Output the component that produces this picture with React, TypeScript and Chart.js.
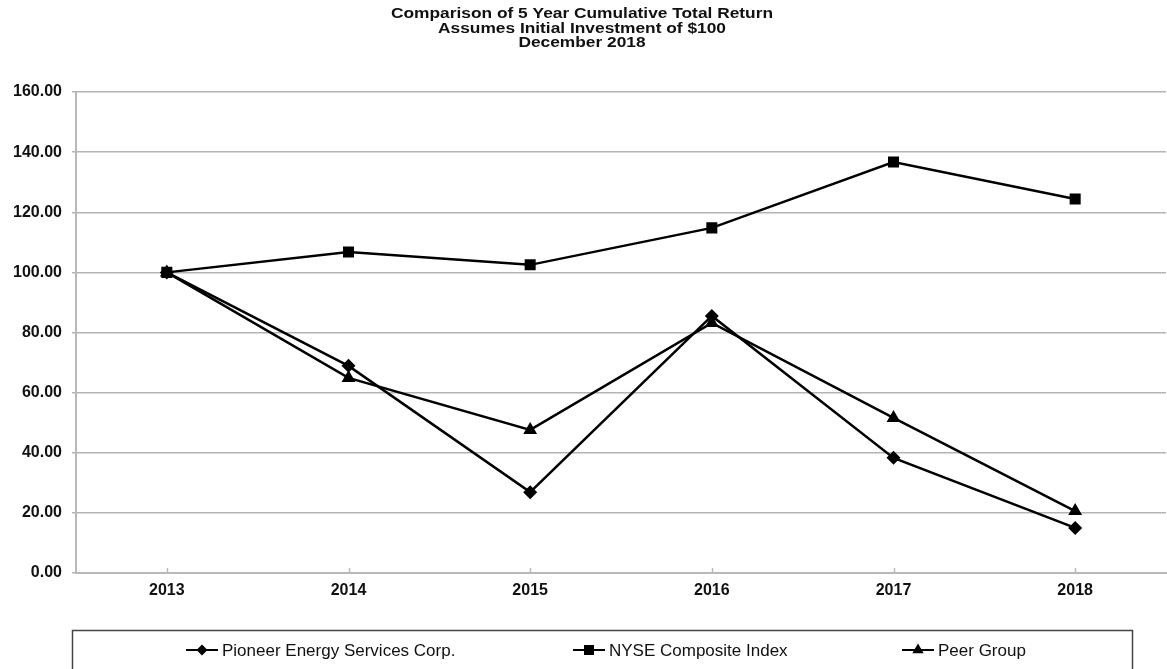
import React, { useEffect, useRef } from "react";
import { Chart, registerables } from "chart.js";

Chart.register(...registerables);

const years = ["2013", "2014", "2015", "2016", "2017", "2018"];
const pioneer = [100, 68.9, 26.9, 85.5, 38.3, 15.0];
const nyse = [100, 106.8, 102.5, 114.8, 136.7, 124.4];
const peer = [100, 64.9, 47.6, 83.2, 51.6, 20.6];
const seriesLabels = ["Pioneer Energy Services Corp.", "NYSE Composite Index", "Peer Group"];
const titleLines = [
  "Comparison of 5 Year Cumulative Total Return",
  "Assumes Initial Investment of $100",
  "December 2018",
];

const FONT = "'Liberation Sans', Arial, Helvetica, sans-serif";

function drawMarker(ctx: CanvasRenderingContext2D, style: string, x: number, y: number) {
  ctx.beginPath();
  if (style === "rectRot") {
    const r = 5.5;
    ctx.moveTo(x, y - r);
    ctx.lineTo(x + r, y);
    ctx.lineTo(x, y + r);
    ctx.lineTo(x - r, y);
  } else if (style === "rect") {
    const s = 5;
    ctx.rect(x - s, y - s, 2 * s, 2 * s);
  } else {
    const r = 6.5;
    ctx.moveTo(x, y - r);
    ctx.lineTo(x + r * 0.87, y + r * 0.5);
    ctx.lineTo(x - r * 0.87, y + r * 0.5);
  }
  ctx.closePath();
  ctx.fill();
}

const decorPlugin = {
  id: "decor",
  afterDraw(chart: any) {
    const ctx: CanvasRenderingContext2D = chart.ctx;
    ctx.save();
    // title
    ctx.fillStyle = "#111";
    ctx.font = `bold 15.5px ${FONT}`;
    ctx.textAlign = "center";
    ctx.textBaseline = "middle";
    const w0 = ctx.measureText(titleLines[0]).width;
    const sx = 382 / w0;
    const tys = [14, 28.5, 43];
    titleLines.forEach((t, i) => {
      ctx.save();
      ctx.translate(582, tys[i]);
      ctx.scale(sx, 1);
      ctx.fillText(t, 0, 0);
      ctx.restore();
    });

    // inner x tick marks
    const xs = chart.scales.x;
    const area = chart.chartArea;
    ctx.strokeStyle = "#b8b8b8";
    ctx.lineWidth = 1.5;
    years.forEach((_, i) => {
      const px = Math.round(xs.getPixelForValue(i)) + 0.5;
      ctx.beginPath();
      ctx.moveTo(px, area.bottom);
      ctx.lineTo(px, area.bottom - 5);
      ctx.stroke();
    });

    // legend box
    ctx.strokeStyle = "#444";
    ctx.lineWidth = 1.5;
    ctx.strokeRect(72.5, 630.5, 1060, 60);
    const items = [
      { x: 186, style: "rectRot" },
      { x: 573, style: "rect" },
      { x: 902, style: "triangle" },
    ];
    const ly = 650;
    ctx.font = `17px ${FONT}`;
    ctx.textAlign = "left";
    ctx.textBaseline = "middle";
    items.forEach((it, i) => {
      ctx.strokeStyle = "#000";
      ctx.lineWidth = 2;
      ctx.beginPath();
      ctx.moveTo(it.x, ly);
      ctx.lineTo(it.x + 32, ly);
      ctx.stroke();
      ctx.fillStyle = "#000";
      drawMarker(ctx, it.style, it.x + 16, ly);
      ctx.fillStyle = "#111";
      ctx.fillText(seriesLabels[i], it.x + 36, ly + 1);
    });
    ctx.restore();
  },
};

export default function App() {
  const ref = useRef<HTMLCanvasElement | null>(null);
  useEffect(() => {
    if (!ref.current) return;
    const mk = (label: string, data: number[], style: string, r: number) => ({
      label,
      data,
      borderColor: "#000",
      backgroundColor: "#000",
      borderWidth: 2.5,
      pointStyle: style,
      pointRadius: r,
      pointBorderWidth: 0,
      pointBackgroundColor: "#000",
      tension: 0,
      fill: false,
    });
    const chart = new Chart(ref.current, {
      type: "line",
      data: {
        labels: years,
        datasets: [
          mk(seriesLabels[0], pioneer, "rectRot", 7),
          mk(seriesLabels[1], nyse, "rect", 7.8),
          mk(seriesLabels[2], peer, "triangle", 8),
        ],
      },
      options: {
        responsive: false,
        animation: false,
        devicePixelRatio: 1,
        layout: { padding: { top: 92, left: 0, right: 0, bottom: 0 } },
        plugins: {
          legend: { display: false },
          title: { display: false },
          tooltip: { enabled: false },
        },
        scales: {
          x: {
            offset: true,
            grid: { display: true, drawOnChartArea: false, drawTicks: false },
            border: { display: true, color: "#b8b8b8", width: 2 },
            ticks: {
              color: "#111",
              font: { family: FONT, size: 16, weight: "bold" },
              padding: 8,
              maxRotation: 0,
            },
            afterFit: (s: any) => {
              s.height = 96;
            },
          },
          y: {
            min: 0,
            max: 160,
            ticks: {
              stepSize: 20,
              color: "#111",
              font: { family: FONT, size: 16, weight: "bold" },
              padding: 10,
              callback: (v: any) => Number(v).toFixed(2),
            },
            grid: { color: "#b4b4b4", lineWidth: 1.5, tickLength: 4, drawTicks: true },
            border: { display: true, color: "#b8b8b8", width: 2 },
            afterFit: (s: any) => {
              s.width = 76;
            },
          },
        },
      },
      plugins: [decorPlugin],
    } as any);
    return () => chart.destroy();
  }, []);
  return (
    <div
      style={{
        position: "absolute",
        left: 0,
        top: 0,
        width: 1167,
        height: 669,
        overflow: "hidden",
        background: "#fff",
      }}
    >
      <canvas ref={ref} width={1174} height={669} style={{ width: 1174, height: 669, display: "block" }} />
    </div>
  );
}
